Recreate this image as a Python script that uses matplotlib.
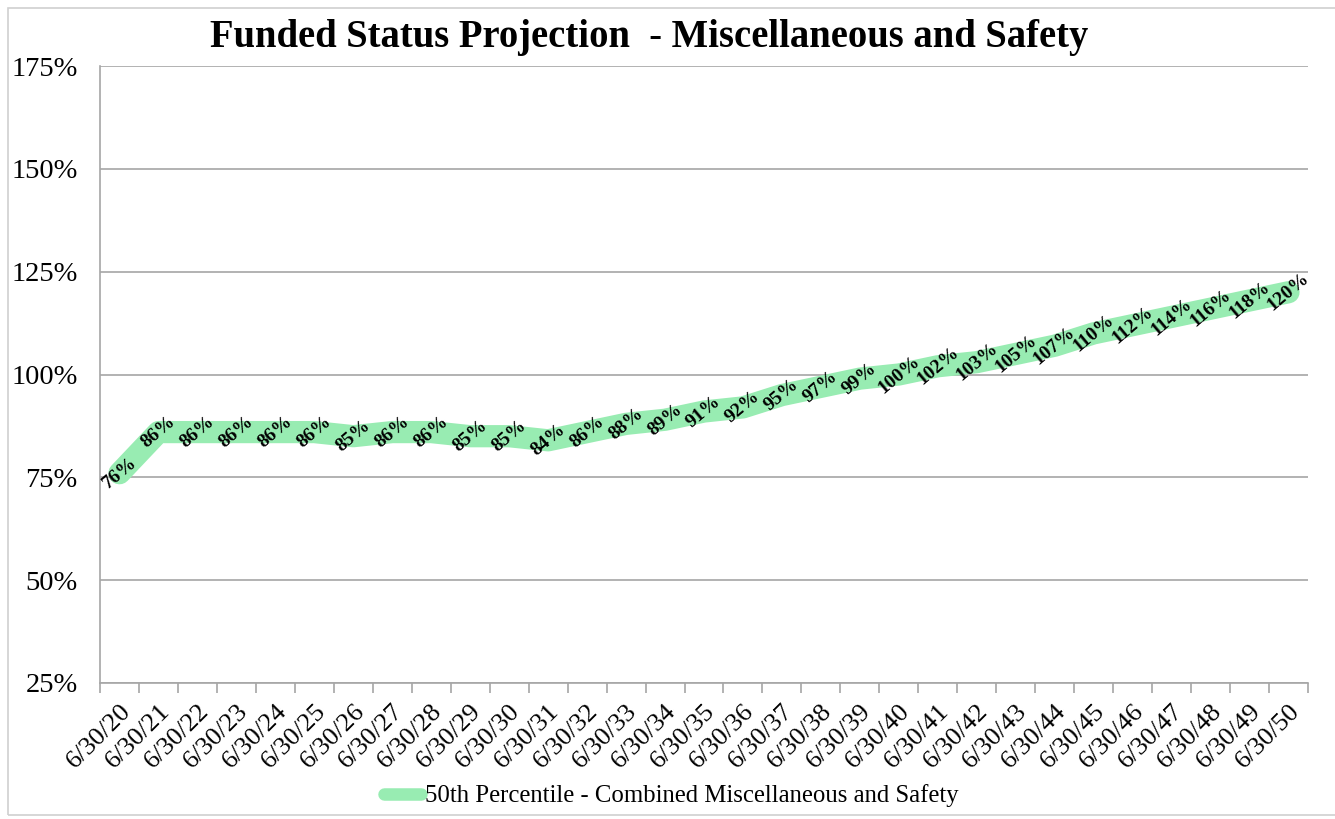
import matplotlib
matplotlib.use("Agg")

import matplotlib.pyplot as plt
from matplotlib.patches import Rectangle

# data
years = list(range(20, 51))
dates = [f"6/30/{y}" for y in years]
funded = [76, 86, 86, 86, 86, 86, 85, 86, 86, 85, 85, 84, 86, 88, 89, 91,
          92, 95, 97, 99, 100, 102, 103, 105, 107, 110, 112, 114, 116, 118, 120]
y_ticks = [25, 50, 75, 100, 125, 150, 175]
series_name = "50th Percentile - Combined Miscellaneous and Safety"
title = "Funded Status Projection  - Miscellaneous and Safety"

plt.rcParams["font.family"] = ["Liberation Serif", "DejaVu Serif"]

GREEN = "#98ECB2"
GRID = "#A6A6A6"

fig = plt.figure(figsize=(13.35, 8.19), dpi=100)
ax = fig.add_axes([100 / 1335, 1 - 683 / 819, 1208 / 1335, 617 / 819])

# outer chart border
fig.patches.append(Rectangle((8 / 1335, 4 / 819), 1.0, 807 / 819,
                             transform=fig.transFigure, fill=False,
                             edgecolor="#D0D0D0", linewidth=1.2))

x = list(range(len(funded)))
line, = ax.plot(x, funded, color=GREEN, linewidth=16, solid_capstyle="round",
                solid_joinstyle="round", zorder=3, label=series_name)

for xi, v in zip(x, funded):
    ax.text(xi, v, f"{v}%", rotation=40, ha="center", va="center",
            rotation_mode="anchor", fontsize=14, fontweight="bold",
            color="black", zorder=4)

ax.set_xlim(-0.5, len(funded) - 0.5)
ax.set_ylim(25, 175)
ax.set_yticks(y_ticks)
ax.set_yticklabels([f"{t}%" for t in y_ticks], fontsize=20.5)
ax.tick_params(axis="y", length=0, pad=16)
ax.yaxis.grid(True, color=GRID, linewidth=1.2)
ax.set_axisbelow(True)

# category labels centred between the tick marks
ax.set_xticks(x)
ax.set_xticklabels(dates, rotation=45, ha="right", rotation_mode="anchor",
                   fontsize=19)
ax.tick_params(axis="x", which="major", length=0, pad=12)
ax.set_xticks([i - 0.5 for i in range(len(funded) + 1)], minor=True)
ax.tick_params(axis="x", which="minor", length=7, width=1.2, color=GRID)

for side in ("top", "right"):
    ax.spines[side].set_visible(False)
for side in ("left", "bottom"):
    ax.spines[side].set_color(GRID)
    ax.spines[side].set_linewidth(1.2)

fig.text(649 / 1335, 1 - 37 / 819, title, ha="center", va="center",
         fontsize=27.8, fontweight="bold")

leg = fig.legend(handles=[line], loc="center", bbox_to_anchor=(671 / 1335, 1 - 796 / 819),
                 frameon=False, fontsize=17.8, handlelength=1.5, handletextpad=0.15)
leg.get_lines()[0].set_linewidth(9)

fig.savefig("out.png", dpi=100)
